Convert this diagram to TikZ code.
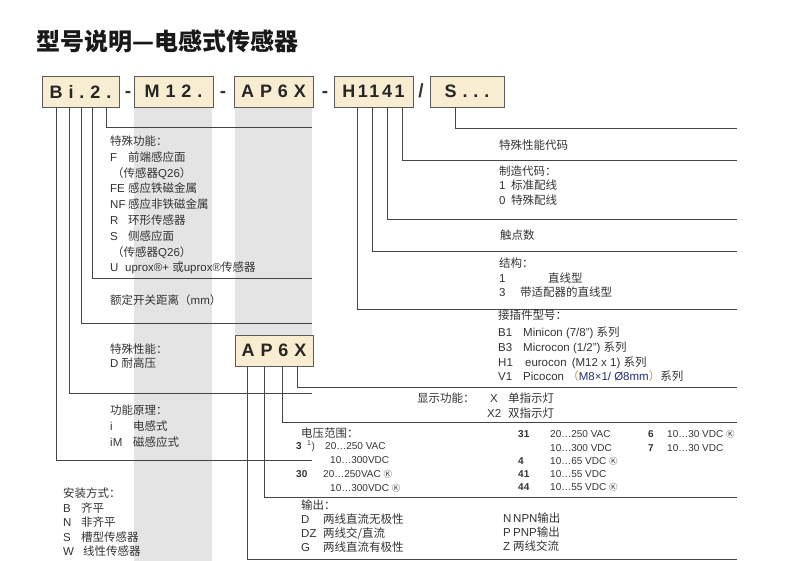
\documentclass[tikz,border=0pt]{standalone}
\usepackage{fontspec}
\usepackage{tikz}
\usetikzlibrary{positioning}
\setmainfont{Liberation Sans}
\newfontfamily\cjk{Noto Sans CJK SC}
\newfontfamily\codefont{Liberation Sans}[LetterSpace=33]
\definecolor{boxfill}{HTML}{F9EDD1}
\definecolor{boxline}{HTML}{5A5A5A}
\definecolor{band}{HTML}{E3E4E3}
\definecolor{leadcol}{HTML}{454545}
\definecolor{txtcol}{HTML}{333333}
\definecolor{navy}{HTML}{1F2F7A}
\definecolor{amber}{HTML}{D08A2A}
\newcommand\zh[1]{{\cjk #1}}
\newcommand\kmark{{\cjk\fontsize{8.5}{8.5}\selectfont Ⓚ}}
\newcommand\kc[2][18pt]{\makebox[#1][l]{#2}}
\newcommand\firstln{\rule{0pt}{12pt}}

\begin{document}
\begin{tikzpicture}[x=1pt, y=-1pt,
  codebox/.style={draw=boxline, fill=boxfill, line width=0.9pt, minimum height=31, inner sep=0pt,
    font=\codefont\bfseries\fontsize{18}{18}\selectfont, text=black!85},
  sep/.style={inner sep=0pt, font=\bfseries\fontsize{19}{19}\selectfont, text=black!80},
  lead/.style={draw=leadcol, line width=0.9pt},
  txt/.style={anchor=north west, inner sep=0pt, text=txtcol, align=left, font=\fontsize{11.5}{15.8}\selectfont},
  one/.style={anchor=base west, inner sep=0pt, text=txtcol, font=\fontsize{11.5}{13}\selectfont},
]
\useasboundingbox (0,0) rectangle (791,561);

% 标题
\node[one, text=black!90, font=\cjk\bfseries\fontsize{24}{24}\selectfont] (title) at (36,51) {型号说明—电感式传感器};

% 灰色底纹
\fill[band] (134,107) rectangle (212,561);
\fill[band] (235,107) rectangle (312,335);

% 型号框
\node[codebox, minimum width=77] (bi) at (80.5,91.5) {Bi.2.};
\node[sep] (d1) at (128,94) {-};
\node[codebox, minimum width=79] (m12) at (173.5,91.5) {M12.};
\node[sep] (d2) at (223,94) {-};
\node[codebox, minimum width=79] (ap) at (273.5,91.5) {AP6X};
\node[sep] (d3) at (325,94) {-};
\node[codebox, minimum width=79] (hc) at (373.5,91.5) {\addfontfeature{LetterSpace=14}H1141};
\node[sep] (sl) at (421,91) {/};
\node[codebox, minimum width=74] (sx) at (467,91.5) {S...};
\node[codebox, minimum width=78] (ap2) at (274,350.5) {AP6X};

% 引线端点
\coordinate (l5) at (312,127);
\coordinate (l4) at (312,278);
\coordinate (l3) at (312,323);
\coordinate (l2) at (312,393);
\coordinate (l1) at (312,460);
\coordinate (rs) at (737,128);
\coordinate (r4) at (737,160);
\coordinate (r3) at (737,219);
\coordinate (r2) at (737,251);
\coordinate (r1) at (737,309);
\coordinate (rx) at (737,387);
\coordinate (r6) at (737,422);
\coordinate (rp) at (737,497);
\coordinate (ra) at (737,559);

% 左侧引线
\draw[lead] ([xshift=65]bi.south west) |- (l5);
\draw[lead] ([xshift=51]bi.south west) |- (l4);
\draw[lead] ([xshift=40]bi.south west) |- (l3);
\draw[lead] ([xshift=28]bi.south west) |- (l2);
\draw[lead] ([xshift=15]bi.south west) |- (l1);

% 右侧引线
\draw[lead] ([xshift=26]sx.south west) |- (rs);
\draw[lead] ([xshift=69]hc.south west) |- (r4);
\draw[lead] ([xshift=54]hc.south west) |- (r3);
\draw[lead] ([xshift=39]hc.south west) |- (r2);
\draw[lead] ([xshift=24]hc.south west) |- (r1);
\draw[lead] ([xshift=63]ap2.south west) |- (rx);
\draw[lead] ([xshift=48]ap2.south west) |- (r6);
\draw[lead] ([xshift=30]ap2.south west) |- (rp);
\draw[lead] ([xshift=13]ap2.south west) |- (ra);

% 左侧说明
\node[txt] (func) at (110,133.3) {\firstln\zh{特殊功能：}\\
  \kc{F}\zh{前端感应面}\\
  \hspace*{2pt}\zh{（传感器}Q26\zh{）}\\
  \kc{FE}\zh{感应铁磁金属}\\
  \kc{NF}\zh{感应非铁磁金属}\\
  \kc{R}\zh{环形传感器}\\
  \kc{S}\zh{侧感应面}\\
  \hspace*{2pt}\zh{（传感器}Q26\zh{）}\\
  \kc[15pt]{U}uprox®+ \zh{或}uprox®\zh{传感器}};
\node[one] (range) at (110,304.3) {\zh{额定开关距离（}mm\zh{）}};
\node[txt, font=\fontsize{11.5}{14}\selectfont] (perf) at (110,341.3) {\firstln\zh{特殊性能：}\\ D \zh{耐高压}};
\node[txt, font=\fontsize{11.5}{16}\selectfont] (prin) at (110,402.3) {\firstln\zh{功能原理：}\\
  \kc[23pt]{i}\zh{电感式}\\ \kc[23pt]{iM}\zh{磁感应式}};
\node[txt, font=\fontsize{11.5}{14.5}\selectfont] (mount) at (63,485.3) {\firstln\zh{安装方式：}\\
  \kc{B}\zh{齐平}\\ \kc{N}\zh{非齐平}\\ \kc{S}\zh{槽型传感器}\\ \kc[20pt]{W}\zh{线性传感器}};

% 右侧说明
\node[one] (spec) at (499,149.3) {\zh{特殊性能代码}};
\node[txt, font=\fontsize{11.5}{14.5}\selectfont] (mfg) at (499,163.3) {\firstln\zh{制造代码：}\\
  \kc[12pt]{1}\zh{标准配线}\\ \kc[12pt]{0}\zh{特殊配线}};
\node[one] (cont) at (500,239.3) {\zh{触点数}};
\node[txt, font=\fontsize{11.5}{14.5}\selectfont] (build) at (499,255.3) {\firstln\zh{结构：}\\
  \kc[49pt]{1}\zh{直线型}\\ \kc[21pt]{3}\zh{带适配器的直线型}};
\node[txt, font=\fontsize{11.5}{14.8}\selectfont] (conn) at (498,307.3) {\firstln\zh{接插件型号：}\\[2.2pt]
  \kc[25pt]{B1}Minicon (7/8") \zh{系列}\\
  \kc[25pt]{B3}Microcon (1/2") \zh{系列}\\
  \kc[25pt]{H1}\,eurocon \,(M12 x 1) \zh{系列}\\
  \kc[25pt]{V1}Picocon \textcolor{amber}{\zh{（}}\textcolor{navy}{M8×1/ Ø8mm}\textcolor{amber}{\zh{）}}\zh{系列}};
\node[one] (disp) at (417,402.3) {\zh{显示功能：}};
\node[txt, font=\fontsize{11.5}{15}\selectfont] (lamp) at (487,390.3) {\firstln\kc[21pt]{\hspace*{3pt}X}\zh{单指示灯}\\
  \kc[21pt]{X2}\zh{双指示灯}};

% 电压范围
\node[one] (volt) at (301,437.3) {\zh{电压范围：}};
\node[txt, font=\fontsize{10}{14}\selectfont] (volta) at (296,437.1) {\firstln\kc[11pt]{\textbf{3}}\kc[18pt]{\textsuperscript{1})}20…250 VAC\\
  \hspace*{34pt}10…300VDC\\
  \kc[27pt]{\textbf{30}}20…250VAC \kmark\\
  \hspace*{34pt}10…300VDC \kmark};
\node[txt, font=\fontsize{10}{13.25}\selectfont] (voltb) at (518,425.6) {\firstln\kc[32pt]{\textbf{31}}20…250 VAC\\
  \kc[32pt]{}10…300 VDC\\
  \kc[32pt]{\textbf{4}}10…65 VDC \kmark\\
  \kc[32pt]{\textbf{41}}10…55 VDC\\
  \kc[32pt]{\textbf{44}}10…55 VDC \kmark};
\node[txt, font=\fontsize{10}{13.25}\selectfont] (voltc) at (648,425.6) {\firstln\kc[19pt]{\textbf{6}}10…30 VDC \kmark\\
  \kc[19pt]{\textbf{7}}10…30 VDC};

% 输出
\node[txt, font=\fontsize{11.5}{14}\selectfont] (outa) at (301,497.3) {\firstln\zh{输出：}\\
  \kc[22pt]{D}\zh{两线直流无极性}\\
  \kc[22pt]{DZ}\zh{两线交/直流}\\
  \kc[22pt]{G}\zh{两线直流有极性}};
\node[txt, font=\fontsize{11.5}{14}\selectfont] (outb) at (503,510.3) {\firstln\kc[10pt]{N}NPN\zh{输出}\\
  \kc[10pt]{P}PNP\zh{输出}\\
  \kc[10pt]{Z}\zh{两线交流}};
\end{tikzpicture}
\end{document}
